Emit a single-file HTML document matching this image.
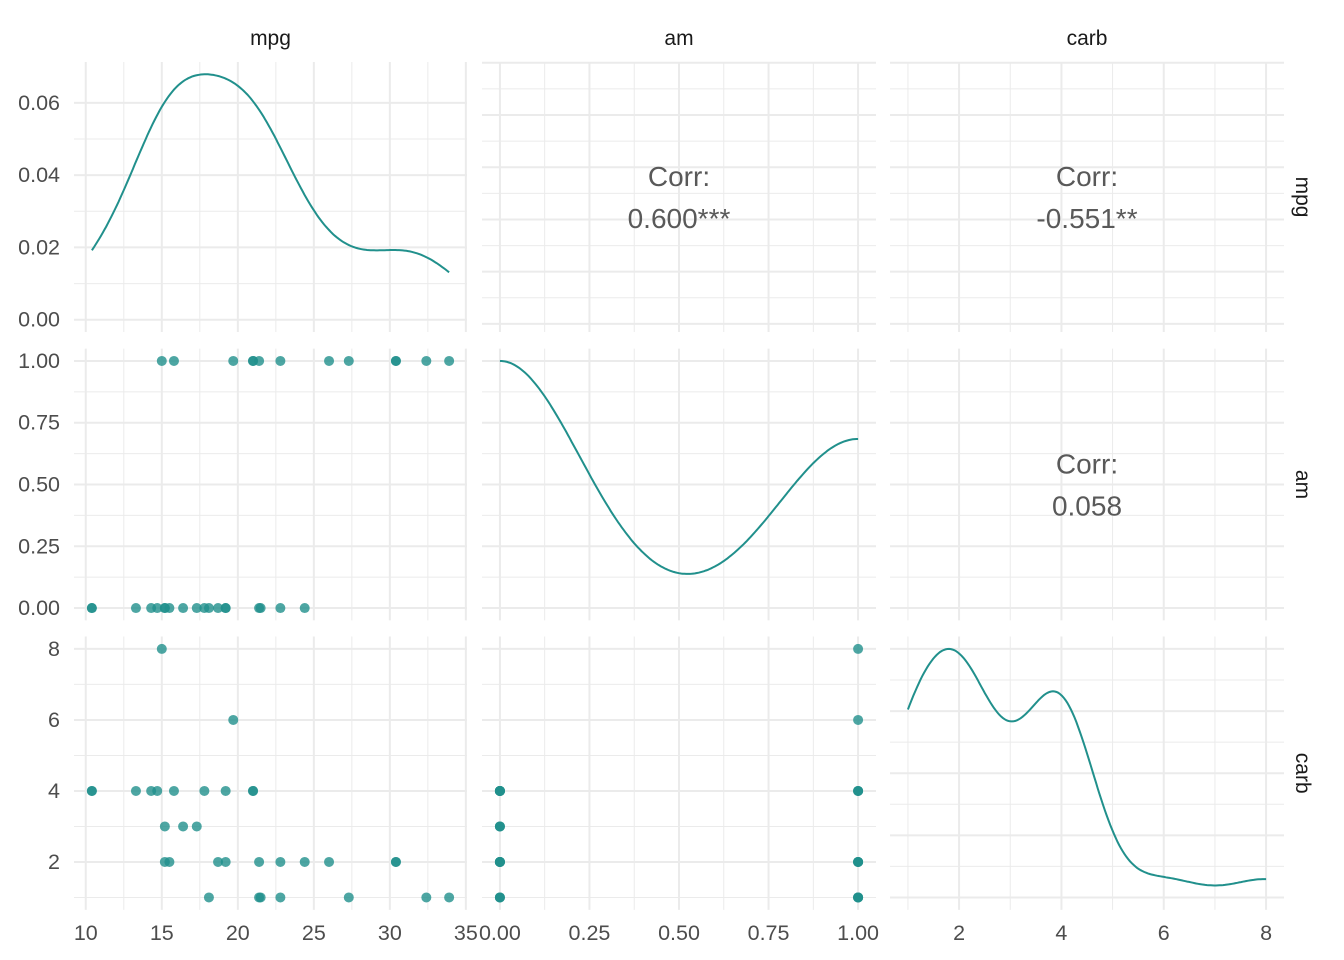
<!DOCTYPE html>
<html><head><meta charset="utf-8"><style>
body{margin:0;background:#fff}
svg{display:block;font-family:"Liberation Sans",sans-serif}
</style></head><body>
<svg id="c" width="1344" height="960" xmlns="http://www.w3.org/2000/svg"></svg>
<script>
const mpg=[21,21,22.8,21.4,18.7,18.1,14.3,24.4,22.8,19.2,17.8,16.4,17.3,15.2,10.4,10.4,14.7,32.4,30.4,33.9,21.5,15.5,15.2,13.3,19.2,27.3,26,30.4,15.8,19.7,15,21.4];
const am=[1,1,1,0,0,0,0,0,0,0,0,0,0,0,0,0,0,1,1,1,0,0,0,0,0,1,1,1,1,1,1,1];
const carb=[4,4,1,1,2,1,4,2,2,4,4,3,3,3,4,4,4,1,2,1,1,2,2,4,2,1,2,2,4,6,8,2];
const varNames=["mpg","am","carb"];
const corrLabels=[["","0.600***","-0.551**"],["","","0.058"]];
const mpgTicks=[10,15,20,25,30,35];
const amTicks=[0,0.25,0.5,0.75,1];
const amTickLabels=["0.00","0.25","0.50","0.75","1.00"];
const carbTicks=[2,4,6,8];
const densTicks=[0,0.02,0.04,0.06];
const densTickLabels=["0.00","0.02","0.04","0.06"];

const svg=document.getElementById('c');
const NS="http://www.w3.org/2000/svg";
const TEAL="#21908C";
function mk(tag,attrs,name,parent){const e=document.createElementNS(NS,tag);for(const k in attrs)e.setAttribute(k,attrs[k]);


(parent||svg).appendChild(e);return e;}
function lin(d0,d1,r0,r1){return v=>r0+(v-d0)/(d1-d0)*(r1-r0);}
const data=[mpg,am,carb];
const cols=[[74,467],[482,876],[890,1284]];
const rows=[[62,332],[348.6,620.4],[636.5,909.9]];
const dom=[[9.225,35.075],[-0.05,1.05],[0.65,8.35]];
const majors=[mpgTicks,amTicks,carbTicks];
const minors=[[12.5,17.5,22.5,27.5,32.5],[0.125,0.375,0.625,0.875],[1,3,5,7]];
function xs(j){return lin(dom[j][0],dom[j][1],cols[j][0],cols[j][1]);}
function ys(i){return lin(dom[i][0],dom[i][1],rows[i][1],rows[i][0]);}
function bw(a){const n=a.length,m=a.reduce((s,v)=>s+v,0)/n;const sd=Math.sqrt(a.reduce((s,v)=>s+(v-m)**2,0)/(n-1));
const b=[...a].sort((x,y)=>x-y);const q=p=>{const h=(n-1)*p,l=Math.floor(h);return b[l]+(h-l)*((b[l+1]??b[l])-b[l]);};
const iqr=(q(.75)-q(.25))/1.34;return 0.9*Math.min(sd,iqr||sd)*Math.pow(n,-0.2);}
function kde(a,x,h){let s=0;for(const v of a)s+=Math.exp(-0.5*((x-v)/h)**2);return s/(a.length*h*Math.sqrt(2*Math.PI));}
let densYScale=null;
for(let i=0;i<3;i++)for(let j=0;j<3;j++){
 const g=mk('g',{},`panel-${varNames[i]}-${varNames[j]}`);
 const [x0,x1]=cols[j],[y0,y1]=rows[i];const X=xs(j);
 let yMaj,yMin,Y;
 let dens=null;
 if(i===j){const a=data[j],h=bw(a),mn=Math.min(...a),mx=Math.max(...a);dens=[];
  for(let k=0;k<=200;k++){const x=mn+(mx-mn)*k/200;dens.push([x,kde(a,x,h)]);}
  const dmax=Math.max(...dens.map(d=>d[1]));Y=lin(-dmax*0.05,dmax*1.05,y1,y0);
  if(i===0){densYScale=Y;yMaj=densTicks;yMin=[0.01,0.03,0.05];}
  else{yMaj=[0,dmax/4,dmax/2,3*dmax/4,dmax];yMin=[1,3,5,7].map(k=>k*dmax/8);}
 } else {Y=ys(i);yMaj=majors[i];yMin=minors[i];}
 for(const v of yMin)mk('line',{x1:x0,x2:x1,y1:Y(v),y2:Y(v),stroke:"#EBEBEB","stroke-width":1},'minor-gridline-y',g);
 for(const v of minors[j])mk('line',{y1:y0,y2:y1,x1:X(v),x2:X(v),stroke:"#EBEBEB","stroke-width":1},'minor-gridline-x',g);
 for(const v of yMaj)mk('line',{x1:x0,x2:x1,y1:Y(v),y2:Y(v),stroke:"#EBEBEB","stroke-width":2},'major-gridline-y',g);
 for(const v of majors[j])mk('line',{y1:y0,y2:y1,x1:X(v),x2:X(v),stroke:"#EBEBEB","stroke-width":2},'major-gridline-x',g);
 if(dens){mk('path',{d:dens.map((d,k)=>(k?'L':'M')+X(d[0]).toFixed(1)+','+Y(d[1]).toFixed(1)).join(''),fill:'none',stroke:TEAL,'stroke-width':2},'density-curve',g);}
 else if(i>j){for(let k=0;k<mpg.length;k++)mk('circle',{cx:X(data[j][k]),cy:Y(data[i][k]),r:5,fill:TEAL,'fill-opacity':0.8},'scatter-point',g);}
 else{const cx=(x0+x1)/2,cy=(y0+y1)/2;
  const t1=mk('text',{x:cx,y:cy-11,'text-anchor':'middle','font-size':28,fill:'#595959'},'corr-label',g);t1.textContent='Corr:';
  const t2=mk('text',{x:cx,y:cy+31,'text-anchor':'middle','font-size':28,fill:'#595959'},'corr-value',g);t2.textContent=corrLabels[i][j];}
}
for(let j=0;j<3;j++){const t=mk('text',{x:(cols[j][0]+cols[j][1])/2,y:45,'text-anchor':'middle','font-size':21,fill:'#1A1A1A'},'column-strip-label');t.textContent=varNames[j];}
for(let i=0;i<3;i++){const cy=(rows[i][0]+rows[i][1])/2;const t=mk('text',{x:0,y:0,transform:`translate(1296,${cy}) rotate(90)`,'text-anchor':'middle','font-size':21,fill:'#1A1A1A'},'row-strip-label');t.textContent=varNames[i];}
function lab(x,y,s,anchor,name){const t=mk('text',{x,y,'text-anchor':anchor,'font-size':21.5,fill:'#4D4D4D'},name);t.textContent=s;}
densTicks.forEach((v,k)=>lab(60,densYScale(v)+7,densTickLabels[k],'end','y-tick-label'));
{const Y=ys(1);amTicks.forEach((v,k)=>lab(60,Y(v)+7,amTickLabels[k],'end','y-tick-label'));}
{const Y=ys(2);carbTicks.forEach(v=>lab(60,Y(v)+7,String(v),'end','y-tick-label'));}
{const X=xs(0);mpgTicks.forEach(v=>lab(X(v),940,String(v),'middle','x-tick-label'));}
{const X=xs(1);amTicks.forEach((v,k)=>lab(X(v),940,amTickLabels[k],'middle','x-tick-label'));}
{const X=xs(2);carbTicks.forEach(v=>lab(X(v),940,String(v),'middle','x-tick-label'));}
</script>
</body></html>
